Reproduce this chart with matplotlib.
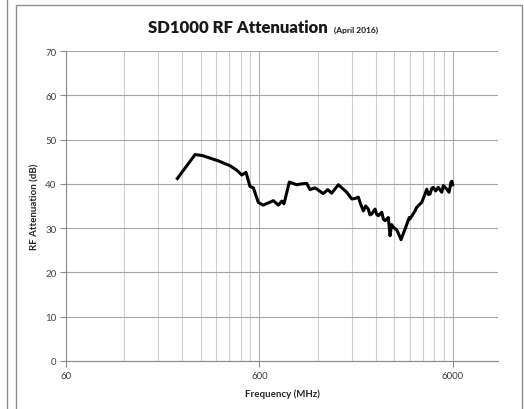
import matplotlib.pyplot as plt
from matplotlib.ticker import FixedLocator, NullFormatter
from matplotlib.patches import Rectangle

# frequency (MHz) and attenuation (dB)
freq = [226, 279, 304, 368, 423, 458, 487, 512, 537, 559, 593, 629, 676,
        709, 753, 784, 805, 858, 937, 994, 1055, 1098, 1165, 1286, 1355,
        1421, 1538, 1700, 1804, 1876, 1951, 2000, 2071, 2130, 2198, 2240,
        2289, 2381, 2430, 2476, 2579, 2630, 2683, 2790, 2847, 2900, 2961,
        3083, 3160, 3245, 3404, 3582, 3612, 3700, 3834, 3900, 3988, 4153,
        4319, 4408, 4500, 4584, 4680, 4768, 4900, 5060, 5269, 5371, 5593,
        5749, 5887, 5950, 6000]
atten = [41.2, 46.6, 46.4, 45.2, 44.1, 43.1, 42.0, 42.6, 39.4, 39.1, 35.8,
         35.2, 35.8, 36.2, 35.2, 36.1, 35.5, 40.4, 39.8, 40.0, 40.1, 38.7,
         39.1, 37.8, 38.7, 37.9, 39.8, 38.1, 36.6, 36.7, 37.0, 35.6, 33.9,
         35.0, 34.3, 33.0, 33.2, 34.3, 33.1, 32.8, 33.6, 32.0, 31.7, 32.4,
         28.3, 30.8, 30.2, 29.6, 28.6, 27.4, 29.8, 32.4, 32.1, 32.8, 33.9,
         34.6, 35.1, 35.8, 37.7, 38.8, 37.6, 37.7, 39.0, 39.2, 38.4, 39.2,
         38.1, 39.6, 38.8, 38.1, 40.4, 40.6, 39.8]

major_x = [60, 600, 6000]
minor_x = [60 * k for k in range(2, 10)] + [600 * k for k in range(2, 10)]
y_ticks = range(0, 71, 10)

fig = plt.figure(figsize=(5.24, 4.10), dpi=100)
plt.rcParams['font.family'] = ['Lato', 'DejaVu Sans']

# chart frames (this one and the edge of a neighbouring chart)
fig.patches.append(Rectangle((16 / 524, -0.1), (522 - 16) / 524, 1.1 - 6 / 410,
                             transform=fig.transFigure, fill=False,
                             edgecolor='#8c8c8c', linewidth=1.0))
fig.patches.append(Rectangle((-0.1, -0.1), 0.1 + 7.5 / 524, 1.2,
                             transform=fig.transFigure, fill=False,
                             edgecolor='#8c8c8c', linewidth=1.0))

ax = fig.add_axes([66 / 524, 48 / 410, (498 - 66) / 524, (358 - 48) / 410])
ax.plot(freq, atten, color='black', linewidth=2.2)
ax.set_xscale('log')
ax.set_xlim(60, 10300)
ax.set_ylim(0, 70)

ax.xaxis.set_major_locator(FixedLocator(major_x))
ax.set_xticklabels([str(v) for v in major_x])
ax.xaxis.set_minor_locator(FixedLocator(minor_x))
ax.xaxis.set_minor_formatter(NullFormatter())
ax.set_yticks(list(y_ticks))

ax.grid(axis='y', color='#a6a6a6', linewidth=0.8)
ax.grid(axis='x', which='major', color='#b0b0b0', linewidth=0.8)
ax.grid(axis='x', which='minor', color='#cfcfcf', linewidth=0.8)
ax.set_axisbelow(True)

for side in ['top', 'right']:
    ax.spines[side].set_visible(False)
for side in ['left', 'bottom']:
    ax.spines[side].set_color('#8c8c8c')
    ax.spines[side].set_linewidth(0.8)

ax.tick_params(axis='both', which='major', labelsize=7, colors='#8c8c8c',
               labelcolor='#404040', length=4, width=0.8, pad=3)
ax.tick_params(axis='x', which='minor', length=0)

ax.set_xlabel('Frequency (MHz)', fontsize=7, fontweight='bold',
              color='#262626', labelpad=6)
ax.set_ylabel('RF Attenuation (dB)', fontsize=7, fontweight='bold',
              color='#262626', labelpad=4)

fig.text(328 / 524, 1 - 28 / 410, 'SD1000 RF Attenuation', fontsize=12,
         fontweight='heavy', color='#1a1a1a', ha='right', va='center')
fig.text(334 / 524, 1 - 30 / 410, '(April 2016)', fontsize=6,
         fontweight='bold', color='#1a1a1a', ha='left', va='center')

fig.savefig('out.png', dpi=100)
